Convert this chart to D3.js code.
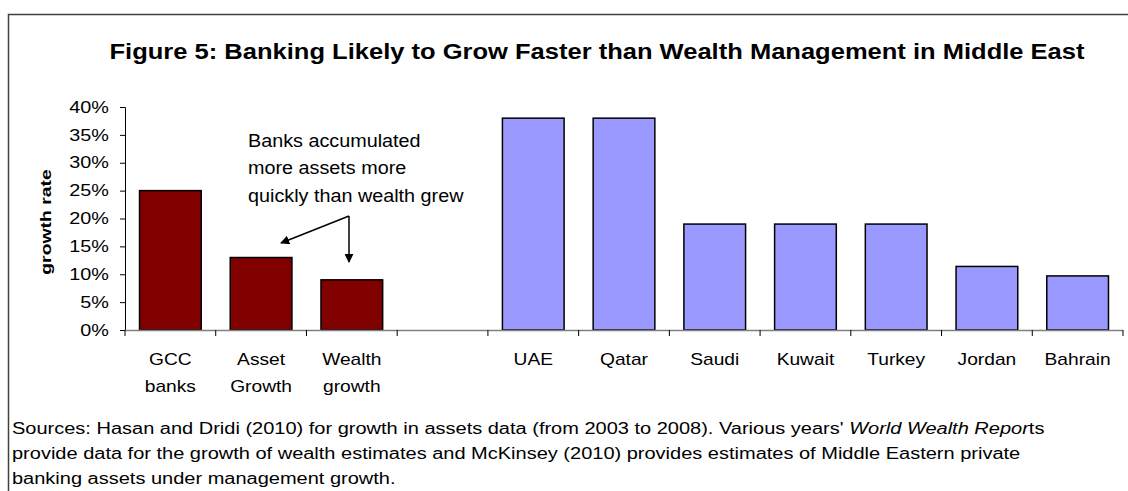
<!DOCTYPE html>
<html>
<head>
<meta charset="utf-8">
<script src="https://cdn.jsdelivr.net/npm/d3@7"></script>
<style>
  body { margin: 0; background: #fff; }
  text { font-family: "Liberation Sans", Arial, sans-serif; fill: #000; }
</style>
</head>
<body>
<div id="container"></div>
<script>
// chart data
const categories = ["GCC banks", "Asset Growth", "Wealth growth", "", "UAE", "Qatar", "Saudi", "Kuwait", "Turkey", "Jordan", "Bahrain"];
const values = [25, 13, 9, null, 38, 38, 19, 19, 19, 11.4, 9.7];
const groups = ["gcc", "gcc", "gcc", null, "country", "country", "country", "country", "country", "country", "country"];
const yTicks = [0, 5, 10, 15, 20, 25, 30, 35, 40];
const titleText = "Figure 5: Banking Likely to Grow Faster than Wealth Management in Middle East";
const noteLines = ["Banks accumulated", "more assets more", "quickly than wealth grew"];

const width = 1128, height = 491;
const colors = { gcc: "#800000", country: "#9999ff" };

const svg = d3.select("#container").append("svg")
    .attr("width", width)
    .attr("height", height);

// the original text is drawn a bit wider than the font, stretch it horizontally
function stretch(sel, sx) {
    sel.each(function() {
        const x0 = +d3.select(this).attr("x") || 0;
        d3.select(this).attr("transform", `translate(${x0 * (1 - sx)},0) scale(${sx},1)`);
    });
}

svg.append("defs").append("marker")
    .attr("id", "arrow")
    .attr("viewBox", "0 0 10 10")
    .attr("refX", 9).attr("refY", 5)
    .attr("markerWidth", 6).attr("markerHeight", 6)
    .attr("orient", "auto")
    .append("path")
    .attr("d", "M0,0 L10,5 L0,10 z")
    .attr("fill", "#000");

// outer frame (right and bottom edges are off the picture)
svg.append("path")
    .attr("d", `M8.5,${height + 2} L8.5,14.5 L${width + 2},14.5`)
    .attr("fill", "none")
    .attr("stroke", "#404040")
    .attr("stroke-width", 1.5);

svg.append("text")
    .attr("x", 597).attr("y", 59)
    .attr("text-anchor", "middle")
    .attr("font-size", 22.5)
    .attr("font-weight", "bold")
    .attr("textLength", 975)
    .attr("lengthAdjust", "spacingAndGlyphs")
    .text(titleText);

const x = d3.scaleBand()
    .domain(d3.range(categories.length))
    .range([125, 1123])
    .paddingInner(0.32)
    .paddingOuter(0.16);

const y = d3.scaleLinear().domain([0, 40]).range([330, 107]);

// y axis
const yAxis = svg.append("g")
    .attr("transform", "translate(125,0)")
    .call(d3.axisLeft(y).tickValues(yTicks).tickSize(5).tickFormat(d => d + "%"));
yAxis.select(".domain").attr("stroke", "#000");
yAxis.selectAll(".tick line").attr("stroke", "#000");
yAxis.selectAll(".tick text")
    .attr("x", -16)
    .attr("font-size", 16)
    .attr("font-family", "Liberation Sans, Arial, sans-serif")
    .attr("fill", "#000")
    .call(stretch, 1.24);

svg.append("text")
    .attr("transform", "translate(51,222) rotate(-90) scale(1.25,1)")
    .attr("text-anchor", "middle")
    .attr("font-size", 15.5)
    .attr("font-weight", "bold")
    .text("growth rate");

// bars
svg.append("g").selectAll("rect")
    .data(values.map((v, i) => ({ v, i })).filter(d => d.v !== null))
    .join("rect")
    .attr("x", d => x(d.i))
    .attr("y", d => y(d.v))
    .attr("width", x.bandwidth())
    .attr("height", d => y(0) - y(d.v))
    .attr("fill", d => colors[groups[d.i]])
    .attr("stroke", "#000")
    .attr("stroke-width", 1.5);

// x axis with ticks between categories
const xEdges = d3.range(categories.length + 1).map(i => x(i) - x.step() * x.paddingInner() / 2);
const xAxis = svg.append("g");
xAxis.append("line")
    .attr("x1", 125).attr("x2", 1123)
    .attr("y1", 330.5).attr("y2", 330.5)
    .attr("stroke", "#808080")
    .attr("stroke-width", 1.5);
xAxis.selectAll("line.tk")
    .data(xEdges.map((e, i) => i === 0 ? 125 : (i === categories.length ? 1123 : e)))
    .join("line")
    .attr("class", "tk")
    .attr("x1", d => d).attr("x2", d => d)
    .attr("y1", 330).attr("y2", 336)
    .attr("stroke", "#000");

const labelData = [];
categories.forEach((c, i) => {
    if (c === "") return;
    const words = i < 3 ? c.split(" ") : [c];
    words.forEach((w, k) => labelData.push({ w, i, k }));
});
svg.append("g").selectAll("text")
    .data(labelData)
    .join("text")
    .attr("x", d => x(d.i) + x.bandwidth() / 2)
    .attr("y", d => 365 + d.k * 27)
    .attr("text-anchor", "middle")
    .attr("font-size", 16)
    .text(d => d.w)
    .call(stretch, 1.2);

// annotation
svg.append("g").selectAll("text")
    .data(noteLines)
    .join("text")
    .attr("x", 248)
    .attr("y", (d, i) => 147 + i * 27.5)
    .attr("font-size", 18.5)
    .text(d => d)
    .call(stretch, 1.07);

const corner = [349, 216];
svg.append("line")
    .attr("x1", corner[0]).attr("y1", corner[1])
    .attr("x2", 281).attr("y2", 243)
    .attr("stroke", "#000").attr("stroke-width", 1.5)
    .attr("marker-end", "url(#arrow)");
svg.append("line")
    .attr("x1", corner[0]).attr("y1", corner[1])
    .attr("x2", corner[0]).attr("y2", 262)
    .attr("stroke", "#000").attr("stroke-width", 1.5)
    .attr("marker-end", "url(#arrow)");

// sources note
const src = svg.append("g").attr("font-size", 16);
const l1 = src.append("text").attr("x", 12).attr("y", 434);
l1.append("tspan").text("Sources: Hasan and Dridi (2010) for growth in assets data (from 2003 to 2008). Various years' ");
l1.append("tspan").attr("font-style", "italic").text("World Wealth Repor");
l1.append("tspan").text("ts");
src.append("text").attr("x", 12).attr("y", 459)
    .text("provide data for the growth of wealth estimates and McKinsey (2010) provides estimates of Middle Eastern private");
src.append("text").attr("x", 12).attr("y", 484)
    .text("banking assets under management growth.");
src.selectAll("text").call(stretch, 1.25);
</script>
</body>
</html>
